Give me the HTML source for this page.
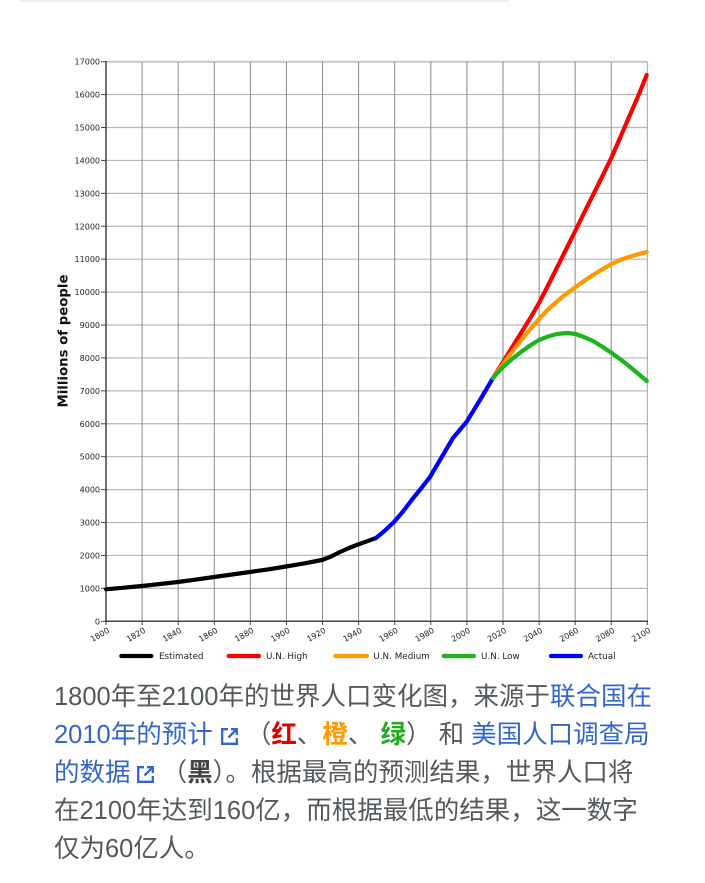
<!DOCTYPE html>
<html><head><meta charset="utf-8">
<style>
html,body{margin:0;padding:0;background:#fff;}
body{width:705px;height:883px;position:relative;overflow:hidden;}
.bar{position:absolute;left:20px;top:0;width:489px;height:2px;background:#eaecf0;}
svg.chart{position:absolute;left:0;top:0;}
.cap{position:absolute;left:54px;height:38px;line-height:38px;font-size:25.5px;white-space:nowrap;color:#54595d;font-family:"Liberation Sans","Noto Sans CJK SC",sans-serif;}
.a{color:#3366cc;}
.ic{display:inline-block;width:19px;height:19px;vertical-align:-3px;}
.ic svg{display:block;}
b{font-weight:bold;}
</style></head><body>
<div class="bar"></div>
<svg class="chart" width="705" height="670" viewBox="0 0 705 670" xmlns="http://www.w3.org/2000/svg">
<g stroke="#b8b8b8" stroke-width="1.2">
<line x1="106" y1="588.38" x2="647.3" y2="588.38"/>
<line x1="106" y1="555.46" x2="647.3" y2="555.46"/>
<line x1="106" y1="522.54" x2="647.3" y2="522.54"/>
<line x1="106" y1="489.62" x2="647.3" y2="489.62"/>
<line x1="106" y1="456.7" x2="647.3" y2="456.7"/>
<line x1="106" y1="423.78" x2="647.3" y2="423.78"/>
<line x1="106" y1="390.86" x2="647.3" y2="390.86"/>
<line x1="106" y1="357.94" x2="647.3" y2="357.94"/>
<line x1="106" y1="325.02" x2="647.3" y2="325.02"/>
<line x1="106" y1="292.1" x2="647.3" y2="292.1"/>
<line x1="106" y1="259.18" x2="647.3" y2="259.18"/>
<line x1="106" y1="226.26" x2="647.3" y2="226.26"/>
<line x1="106" y1="193.34" x2="647.3" y2="193.34"/>
<line x1="106" y1="160.42" x2="647.3" y2="160.42"/>
<line x1="106" y1="127.5" x2="647.3" y2="127.5"/>
<line x1="106" y1="94.58" x2="647.3" y2="94.58"/>
</g>
<line x1="106" y1="61.7" x2="647.3" y2="61.7" stroke="#c8c8c8" stroke-width="2"/>
<g stroke="#8a8a8a" stroke-width="1">
<line x1="142.09" y1="61.7" x2="142.09" y2="621.3"/>
<line x1="178.18" y1="61.7" x2="178.18" y2="621.3"/>
<line x1="214.27" y1="61.7" x2="214.27" y2="621.3"/>
<line x1="250.36" y1="61.7" x2="250.36" y2="621.3"/>
<line x1="286.45" y1="61.7" x2="286.45" y2="621.3"/>
<line x1="322.54" y1="61.7" x2="322.54" y2="621.3"/>
<line x1="358.63" y1="61.7" x2="358.63" y2="621.3"/>
<line x1="394.72" y1="61.7" x2="394.72" y2="621.3"/>
<line x1="430.81" y1="61.7" x2="430.81" y2="621.3"/>
<line x1="466.9" y1="61.7" x2="466.9" y2="621.3"/>
<line x1="502.99" y1="61.7" x2="502.99" y2="621.3"/>
<line x1="539.08" y1="61.7" x2="539.08" y2="621.3"/>
<line x1="575.17" y1="61.7" x2="575.17" y2="621.3"/>
<line x1="611.26" y1="61.7" x2="611.26" y2="621.3"/>
<line x1="647.3" y1="61.7" x2="647.3" y2="621.3" stroke="#a0a0a0"/>
</g>
<!-- axes -->
<line x1="106" y1="61" x2="106" y2="622" stroke="#444" stroke-width="1.5"/>
<line x1="105" y1="621.3" x2="648" y2="621.3" stroke="#444" stroke-width="1.5"/>
<!-- y ticks -->
<g stroke="#444" stroke-width="1">
<line x1="101" y1="621.3" x2="106" y2="621.3"/>
<line x1="101" y1="588.38" x2="106" y2="588.38"/>
<line x1="101" y1="555.46" x2="106" y2="555.46"/>
<line x1="101" y1="522.54" x2="106" y2="522.54"/>
<line x1="101" y1="489.62" x2="106" y2="489.62"/>
<line x1="101" y1="456.7" x2="106" y2="456.7"/>
<line x1="101" y1="423.78" x2="106" y2="423.78"/>
<line x1="101" y1="390.86" x2="106" y2="390.86"/>
<line x1="101" y1="357.94" x2="106" y2="357.94"/>
<line x1="101" y1="325.02" x2="106" y2="325.02"/>
<line x1="101" y1="292.1" x2="106" y2="292.1"/>
<line x1="101" y1="259.18" x2="106" y2="259.18"/>
<line x1="101" y1="226.26" x2="106" y2="226.26"/>
<line x1="101" y1="193.34" x2="106" y2="193.34"/>
<line x1="101" y1="160.42" x2="106" y2="160.42"/>
<line x1="101" y1="127.5" x2="106" y2="127.5"/>
<line x1="101" y1="94.58" x2="106" y2="94.58"/>
<line x1="101" y1="61.7" x2="106" y2="61.7"/>
</g>
<!-- x ticks -->
<g stroke="#444" stroke-width="1">
<line x1="106" y1="621" x2="106" y2="625"/>
<line x1="142.09" y1="621" x2="142.09" y2="625"/>
<line x1="178.18" y1="621" x2="178.18" y2="625"/>
<line x1="214.27" y1="621" x2="214.27" y2="625"/>
<line x1="250.36" y1="621" x2="250.36" y2="625"/>
<line x1="286.45" y1="621" x2="286.45" y2="625"/>
<line x1="322.54" y1="621" x2="322.54" y2="625"/>
<line x1="358.63" y1="621" x2="358.63" y2="625"/>
<line x1="394.72" y1="621" x2="394.72" y2="625"/>
<line x1="430.81" y1="621" x2="430.81" y2="625"/>
<line x1="466.9" y1="621" x2="466.9" y2="625"/>
<line x1="502.99" y1="621" x2="502.99" y2="625"/>
<line x1="539.08" y1="621" x2="539.08" y2="625"/>
<line x1="575.17" y1="621" x2="575.17" y2="625"/>
<line x1="611.26" y1="621" x2="611.26" y2="625"/>
<line x1="647.3" y1="621" x2="647.3" y2="625"/>
</g>
<!-- y labels -->
<g font-family="DejaVu Sans, sans-serif" font-size="8" fill="#222" text-anchor="end">
<text x="100" y="624.3">0</text>
<text x="100" y="591.4">1000</text>
<text x="100" y="558.5">2000</text>
<text x="100" y="525.5">3000</text>
<text x="100" y="492.6">4000</text>
<text x="100" y="459.7">5000</text>
<text x="100" y="426.8">6000</text>
<text x="100" y="393.9">7000</text>
<text x="100" y="360.9">8000</text>
<text x="100" y="328">9000</text>
<text x="100" y="295.1">10000</text>
<text x="100" y="262.2">11000</text>
<text x="100" y="229.3">12000</text>
<text x="100" y="196.3">13000</text>
<text x="100" y="163.4">14000</text>
<text x="100" y="130.5">15000</text>
<text x="100" y="97.6">16000</text>
<text x="100" y="64.7">17000</text>
</g>
<!-- x labels -->
<g font-family="DejaVu Sans, sans-serif" font-size="8" fill="#222" text-anchor="end">
<text transform="translate(110,632) rotate(-30)">1800</text>
<text transform="translate(146.1,632) rotate(-30)">1820</text>
<text transform="translate(182.2,632) rotate(-30)">1840</text>
<text transform="translate(218.3,632) rotate(-30)">1860</text>
<text transform="translate(254.4,632) rotate(-30)">1880</text>
<text transform="translate(290.5,632) rotate(-30)">1900</text>
<text transform="translate(326.5,632) rotate(-30)">1920</text>
<text transform="translate(362.6,632) rotate(-30)">1940</text>
<text transform="translate(398.7,632) rotate(-30)">1960</text>
<text transform="translate(434.8,632) rotate(-30)">1980</text>
<text transform="translate(470.9,632) rotate(-30)">2000</text>
<text transform="translate(507,632) rotate(-30)">2020</text>
<text transform="translate(543.1,632) rotate(-30)">2040</text>
<text transform="translate(579.2,632) rotate(-30)">2060</text>
<text transform="translate(615.3,632) rotate(-30)">2080</text>
<text transform="translate(651.3,632) rotate(-30)">2100</text>
</g>
<!-- y-axis title -->
<text transform="translate(67.5,341) rotate(-90)" text-anchor="middle" font-family="DejaVu Sans, sans-serif" font-weight="bold" font-size="13" fill="#111" textLength="133" lengthAdjust="spacingAndGlyphs">Millions of people</text>
<!-- series -->
<g fill="none" stroke-width="4.2" stroke-linejoin="round" stroke-linecap="round">
<polyline stroke="#000" points="106,589.3 124,587.7 142,586 160,584 178,582 196,579.6 214,577 232,574.5 250,572 268,569.4 286,566.5 304,563.4 322,560 331,556.5 340,552 349,548 358,544.5 367,541.3 376,538"/>
<polyline stroke="#0000ff" points="376,538 385,530.5 394,522 403,511.5 411.7,500 421,488.5 430,477 440,460 453,438 466.7,421.7 480,400 493,378"/>
<polyline stroke="#ff0000" points="493,378 503,362 512,347.5 521,333 530,318.5 539,303 548,285.5 557,267.5 566,249.5 575.7,230 584,213 593,195 602,177 611.7,157 620,138 629,117 638,96.5 646.7,75"/>
<polyline stroke="#ff9900" points="493,378 503,364 512,352 521,340.5 530,329.5 539,319 548,309.5 557,301.5 566,294 575.7,287 584,281 593,275 602,269.5 611.7,264 620,260 629,257 638,254.3 646.7,252"/>
<polyline stroke="#1db31d" points="493,378 498,372.3 503,367 512,359 521,352 530,345.5 539,340 548,336.5 557,334 567,333 575.7,334 584,337 593,341 602,346.5 611.7,353 620,359 629,366 638,373.5 646.7,381"/>
</g>
<!-- legend -->
<g stroke-width="4.2" stroke-linecap="round">
<line x1="121.3" y1="656" x2="151.3" y2="656" stroke="#000"/>
<line x1="228.7" y1="656" x2="259" y2="656" stroke="#ff0000"/>
<line x1="335.3" y1="656" x2="367" y2="656" stroke="#ff9900"/>
<line x1="443.7" y1="656" x2="474" y2="656" stroke="#1db31d"/>
<line x1="551" y1="656" x2="581" y2="656" stroke="#0000ff"/>
</g>
<g font-family="DejaVu Sans, sans-serif" font-size="8.8" fill="#222">
<text x="159" y="659.2">Estimated</text>
<text x="266" y="659.2">U.N. High</text>
<text x="373.3" y="659.2">U.N. Medium</text>
<text x="481" y="659.2">U.N. Low</text>
<text x="588" y="659.2">Actual</text>
</g>
</svg>

<div class="cap" style="top:678px">1800年至2100年的世界人口变化图，来源于<span class="a">联合国在</span></div>
<div class="cap" style="top:716px"><span class="a">2010年的预计</span><span class="ic" style="margin-left:7px"><svg width="19" height="19" viewBox="0 0 19 19"><path d="M8 2.2H2.2V16.8H16.8V11" fill="none" stroke="#3366cc" stroke-width="2.3"/><path d="M8.5 10.5L16.5 2.5M11 2.2H16.8V8" fill="none" stroke="#3366cc" stroke-width="2.3"/></svg></span> （<b style="color:#e00000">红</b>、<b style="color:#ff9900">橙</b>、 <b style="color:#22aa22">绿</b>） 和 <span class="a">美国人口调查局</span></div>
<div class="cap" style="top:754px"><span class="a">的数据</span><span class="ic" style="margin-left:5px"><svg width="19" height="19" viewBox="0 0 19 19"><path d="M8 2.2H2.2V16.8H16.8V11" fill="none" stroke="#3366cc" stroke-width="2.3"/><path d="M8.5 10.5L16.5 2.5M11 2.2H16.8V8" fill="none" stroke="#3366cc" stroke-width="2.3"/></svg></span> （<b style="color:#444">黑</b>）。根据最高的预测结果，世界人口将</div>
<div class="cap" style="top:792px">在2100年达到160亿，而根据最低的结果，这一数字</div>
<div class="cap" style="top:830px">仅为60亿人。</div>
</body></html>
